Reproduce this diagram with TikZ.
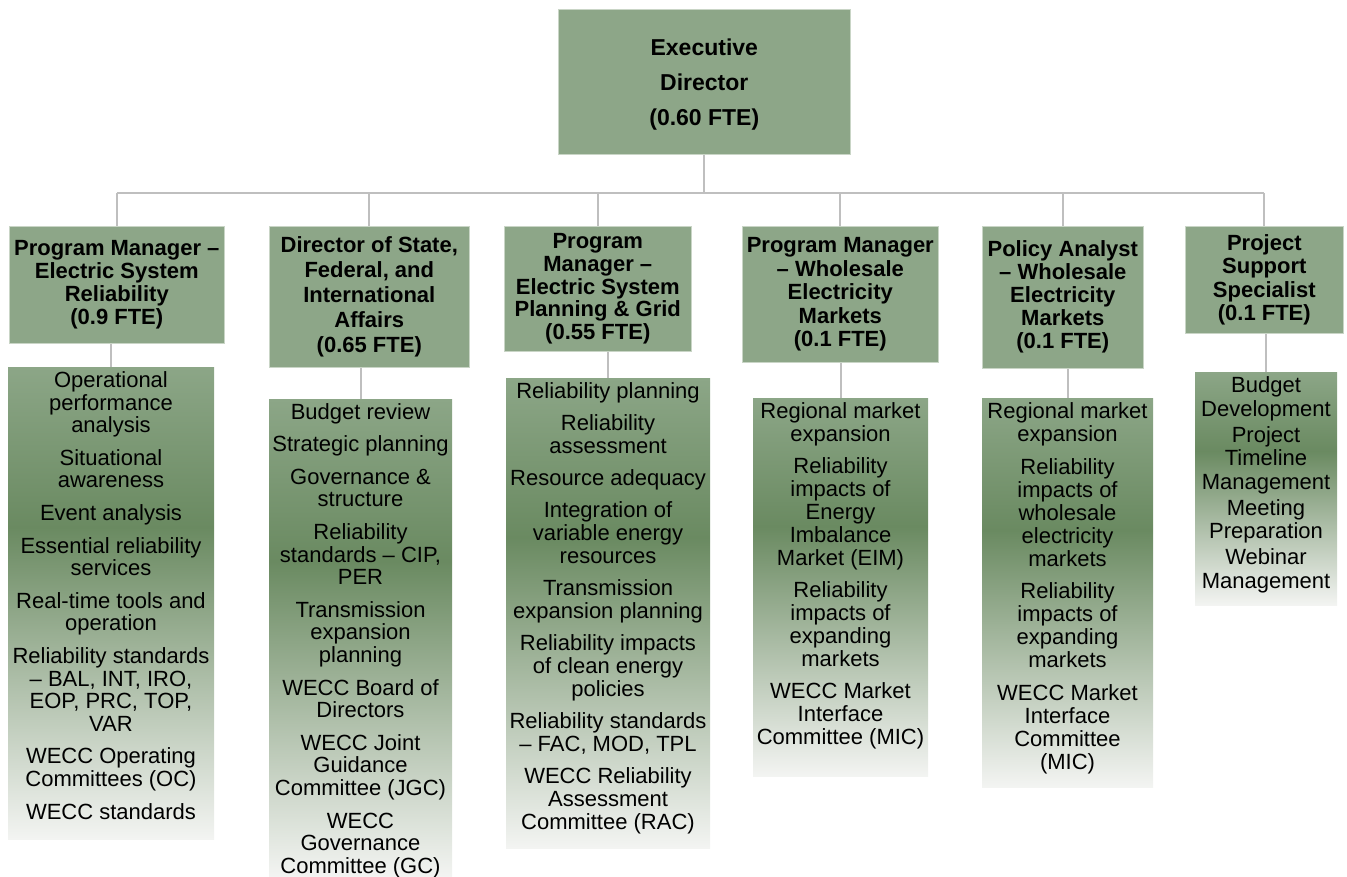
\documentclass[tikz,border=0pt]{standalone}
\usepackage{fontspec}
\setmainfont{Liberation Sans}
\usetikzlibrary{calc}

\definecolor{sage}{HTML}{8DA688}
\definecolor{sageedge}{HTML}{C9D5C6}
\definecolor{gtop}{HTML}{8CA687}
\definecolor{gdark}{HTML}{6A8A61}
\definecolor{gbot}{HTML}{F3F4F2}
\definecolor{wire}{HTML}{BFBFBF}

% green at the top, darkest about a third of the way down, almost white at the foot
\pgfdeclareverticalshading{dutyfade}{100bp}{%
  color(0bp)=(gbot); color(25bp)=(gbot); color(58bp)=(gdark);
  color(75bp)=(gtop); color(100bp)=(gtop)}

% duty list: width, height, line spacing, gap between items, text
\newcommand\dutylist[5]{%
  \parbox[c][#2][t]{#1}{\centering\fontsize{22}{#3}\selectfont
    \setlength\parskip{#4}\rule{0pt}{20.5pt}#5}}

\tikzset{
  wire/.style={draw=wire, line width=2pt},
  boss/.style={fill=sage, draw=sageedge, line width=0.6pt, inner sep=0pt,
    align=center, anchor=north west},
  duty/.style={shading=dutyfade, inner sep=0pt, outer sep=0pt, anchor=north west},
}

\begin{document}
\begin{tikzpicture}[x=1pt, y=-1pt]
\useasboundingbox (0,0) rectangle (1347,877);

% top of the chart
\node[boss, minimum width=292pt, minimum height=145pt,
      font=\fontsize{23}{35}\selectfont\bfseries] (exec) at (558,9)
  {\rule{0pt}{22pt}Executive\\Director\\(0.60 FTE)};

% managers
\node[boss, minimum width=215pt, minimum height=117pt,
      font=\fontsize{22}{23}\selectfont\bfseries] (m1) at (9,226)
  {Program Manager –\\Electric System\\Reliability\\(0.9 FTE)};
\node[boss, minimum width=200pt, minimum height=141pt,
      font=\fontsize{22}{25}\selectfont\bfseries] (m2) at (269,226)
  {Director of State,\\Federal, and\\International\\Affairs\\(0.65 FTE)};
\node[boss, minimum width=187pt, minimum height=125pt,
      font=\fontsize{22}{22.6}\selectfont\bfseries] (m3) at (504,226)
  {Program\\Manager –\\Electric System\\Planning \& Grid\\(0.55 FTE)};
\node[boss, minimum width=196pt, minimum height=136pt,
      font=\fontsize{22}{23.5}\selectfont\bfseries] (m4) at (742,226)
  {Program Manager\\– Wholesale\\Electricity\\Markets\\(0.1 FTE)};
\node[boss, minimum width=161pt, minimum height=142pt,
      font=\fontsize{22}{23}\selectfont\bfseries] (m5) at (982,226)
  {Policy Analyst\\– Wholesale\\Electricity\\Markets\\(0.1 FTE)};
\node[boss, minimum width=158pt, minimum height=107pt,
      font=\fontsize{22}{23.3}\selectfont\bfseries] (m6) at (1185,226)
  {Project\\Support\\Specialist\\(0.1 FTE)};

% duty lists
\node[duty] (d1) at (8,367) {\dutylist{206pt}{472pt}{22.6pt}{10pt}{%
  Operational\\performance\\analysis\par
  Situational\\awareness\par
  Event analysis\par
  Essential reliability\\services\par
  Real-time tools and\\operation\par
  Reliability standards\\– BAL, INT, IRO,\\EOP, PRC, TOP,\\VAR\par
  WECC Operating\\Committees (OC)\par
  WECC standards}};
\node[duty] (d2) at (269,399) {\dutylist{183pt}{478pt}{22.8pt}{9.5pt}{%
  Budget review\par
  Strategic planning\par
  Governance \&\\structure\par
  Reliability\\standards – CIP,\\PER\par
  Transmission\\expansion\\planning\par
  WECC Board of\\Directors\par
  WECC Joint\\Guidance\\Committee (JGC)\par
  WECC\\Governance\\Committee (GC)}};
\node[duty] (d3) at (506,378) {\dutylist{204pt}{470pt}{23pt}{9pt}{%
  Reliability planning\par
  Reliability\\assessment\par
  Resource adequacy\par
  Integration of\\variable energy\\resources\par
  Transmission\\expansion planning\par
  Reliability impacts\\of clean energy\\policies\par
  Reliability standards\\– FAC, MOD, TPL\par
  WECC Reliability\\Assessment\\Committee (RAC)}};
\node[duty] (d4) at (753,398) {\dutylist{175pt}{378pt}{22.9pt}{9.5pt}{%
  Regional market\\expansion\par
  Reliability\\impacts of\\Energy\\Imbalance\\Market (EIM)\par
  Reliability\\impacts of\\expanding\\markets\par
  WECC Market\\Interface\\Committee (MIC)}};
\node[duty] (d5) at (982,398) {\dutylist{171pt}{389pt}{23pt}{9.5pt}{%
  Regional market\\expansion\par
  Reliability\\impacts of\\wholesale\\electricity\\markets\par
  Reliability\\impacts of\\expanding\\markets\par
  WECC Market\\Interface\\Committee\\(MIC)}};
\node[duty] (d6) at (1195,372) {\dutylist{142pt}{233pt}{23.5pt}{2.5pt}{%
  Budget\\Development\par
  Project\\Timeline\\Management\par
  Meeting\\Preparation\par
  Webinar\\Management}};

% connectors
\coordinate (bus) at (704,193);
\draw[wire] (exec.south) -- (exec.south |- bus);
\draw[wire] (m1.north |- bus) -- (m6.north |- bus);
\foreach \i in {1,...,6} {
  \draw[wire] (m\i.north) -- (m\i.north |- bus);
  \draw[wire] (d\i.north) -- (d\i.north |- m\i.south);
}
\end{tikzpicture}
\end{document}
